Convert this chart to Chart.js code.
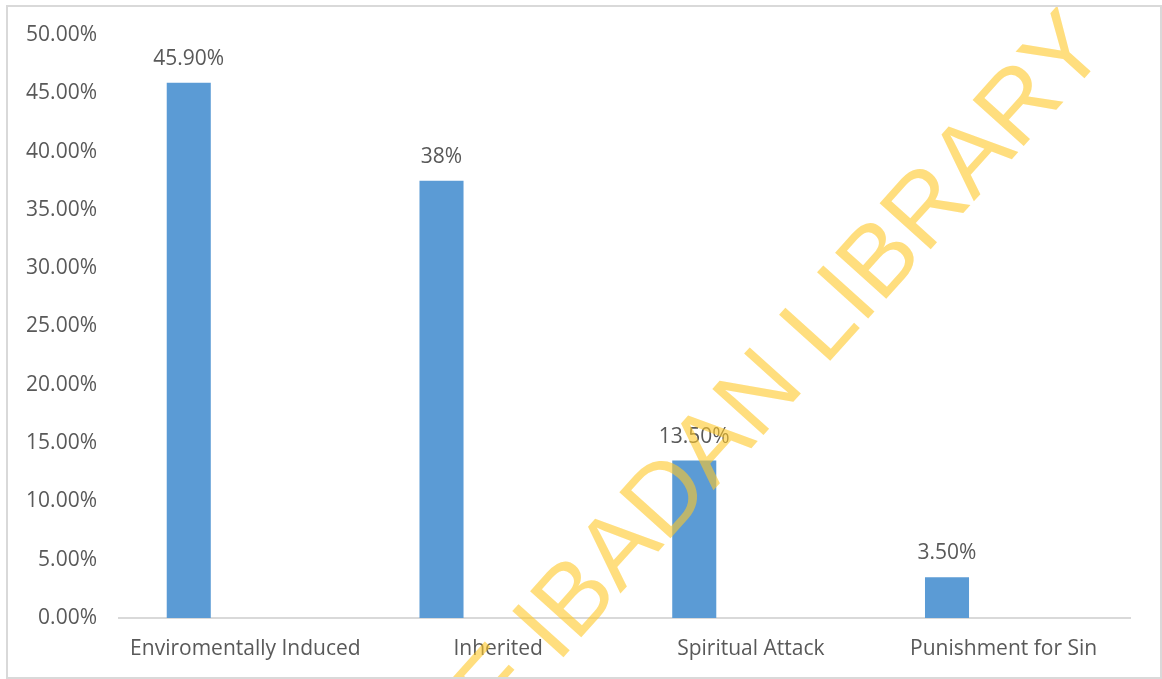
<!DOCTYPE html>
<html>
<head>
<meta charset="utf-8">
<script src="https://cdn.jsdelivr.net/npm/chart.js@4.4.0/dist/chart.umd.min.js"></script>
<style>
  html, body { margin: 0; padding: 0; background: #fff; }
  #wrap { position: relative; width: 1162px; height: 679px; }
  #frame { position: absolute; left: 6px; top: 5px; width: 1152px; height: 670px; border: 2px solid #d9d9d9; pointer-events: none; }
</style>
</head>
<body>
<div id="wrap">
  <canvas id="myChart" width="1162" height="679"></canvas>
  <div id="frame"></div>
</div>
<script>
// chart data
var categories = ["Enviromentally Induced", "Inherited", "Spiritual Attack", "Punishment for Sin"];
var values = [45.9, 37.5, 13.5, 3.5];
var valueLabels = ["45.90%", "38%", "13.50%", "3.50%"];
var emptySeries = [null, null, null, null];
var yTicks = [0, 5, 10, 15, 20, 25, 30, 35, 40, 45, 50];

var textColor = "#595959";
var fontFamily = "'Open Sans', 'Noto Sans', sans-serif";

// value labels above the bars
var barLabels = {
    id: "barLabels",
    afterDatasetsDraw: function (chart) {
        var ctx = chart.ctx;
        var meta = chart.getDatasetMeta(0);
        ctx.save();
        ctx.font = "21px " + fontFamily;
        ctx.fillStyle = textColor;
        ctx.textAlign = "center";
        ctx.textBaseline = "middle";
        meta.data.forEach(function (bar, i) {
            ctx.fillText(valueLabels[i], bar.x, bar.y - 24);
        });
        ctx.restore();
    }
};

// library watermark drawn over everything
var watermark = {
    id: "watermark",
    afterDraw: function (chart) {
        var ctx = chart.ctx;
        ctx.save();
        ctx.translate(1110, 50);
        ctx.rotate(-48 * Math.PI / 180);
        ctx.font = "100px 'Liberation Sans', Arial, sans-serif";
        ctx.fillStyle = "rgba(255, 200, 40, 0.6)";
        ctx.textAlign = "right";
        ctx.textBaseline = "alphabetic";
        ctx.fillText("UNIVERSITY OF IBADAN LIBRARY", 0, 0);
        ctx.restore();
    }
};

new Chart("myChart", {
    type: "bar",
    data: {
        labels: categories,
        datasets: [{
            data: values,
            backgroundColor: "#5b9bd5",
            categoryPercentage: 0.896,
            barPercentage: 0.389
        }, {
            data: emptySeries,
            backgroundColor: "#ed7d31",
            categoryPercentage: 0.896,
            barPercentage: 0.389
        }]
    },
    options: {
        responsive: false,
        animation: false,
        layout: { padding: { left: 0, right: 32, top: 35, bottom: 0 } },
        plugins: {
            legend: { display: false },
            tooltip: { enabled: false }
        },
        scales: {
            x: {
                grid: { display: false, drawTicks: false },
                border: { display: true, color: "#d9d9d9", width: 2 },
                ticks: {
                    color: textColor,
                    font: { family: fontFamily, size: 21 },
                    padding: 18,
                    maxRotation: 0,
                    autoSkip: false
                },
                afterFit: function (scale) { scale.height = 61; }
            },
            y: {
                min: 0,
                max: 50,
                afterBuildTicks: function (scale) {
                    scale.ticks = yTicks.map(function (v) { return { value: v }; });
                },
                grid: { display: false, drawTicks: false },
                border: { display: false },
                ticks: {
                    color: textColor,
                    font: { family: fontFamily, size: 21 },
                    padding: 22,
                    callback: function (v) { return v.toFixed(2) + "%"; }
                },
                afterFit: function (scale) { scale.width = 119; }
            }
        }
    },
    plugins: [barLabels, watermark]
});
</script>
</body>
</html>
